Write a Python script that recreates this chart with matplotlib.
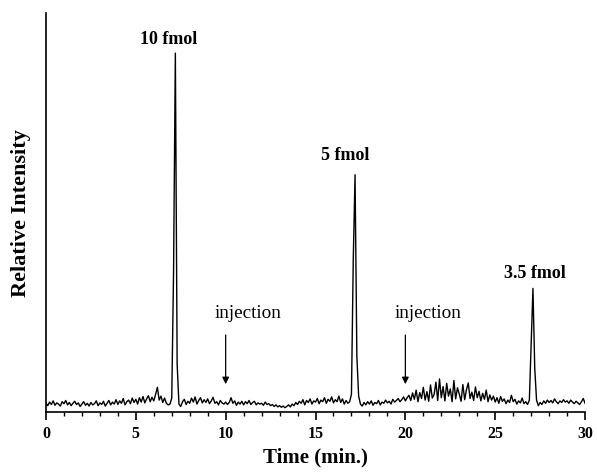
import numpy as np
import matplotlib
matplotlib.use("Agg")
import matplotlib.pyplot as plt

plt.rcParams.update({
    "font.family": ["Liberation Serif", "DejaVu Serif"],
})

# relative intensity sampled every 0.1 min from 0 to 30 min
intensity = [
    2.2, 1.6, 2.5, 1.9, 2.8, 1.7, 2.3, 2.0, 1.5, 2.6,
    2.1, 2.9, 1.8, 2.4, 1.6, 2.2, 2.7, 1.9, 2.3, 1.4,
    2.0, 2.6, 1.7, 2.2, 1.5, 2.4, 1.8, 2.1, 2.8, 1.6,
    2.3, 1.9, 2.7, 1.5, 2.2, 2.9, 1.8, 2.5, 2.0, 3.1,
    1.9, 2.8, 2.2, 3.4, 1.8, 2.6, 3.0, 2.1, 3.5, 2.4,
    3.2, 2.0, 3.6, 2.5, 3.9, 2.3, 3.3, 4.1, 2.6, 3.7,
    2.8, 4.4, 6.2, 3.0, 4.0, 2.4, 3.5, 2.2, 1.8, 2.0,
    3.5, 35.0, 90.0, 12.0, 2.0, 1.4, 2.6, 3.2, 1.9, 2.7,
    2.2, 3.5, 2.5, 3.8, 2.0, 2.9, 3.6, 2.3, 3.1, 2.4,
    3.3, 2.1, 2.8, 3.7, 2.2, 2.6, 1.8, 2.9, 2.3, 2.0,
    2.5, 1.9, 2.4, 3.6, 2.2, 2.8, 1.7, 2.5, 2.0, 2.7,
    1.8, 2.6, 2.1, 2.9, 1.9, 2.4, 2.7, 1.8, 2.3, 2.0,
    2.2, 1.7, 2.5, 1.9, 2.1, 1.6, 1.9, 1.4, 1.8, 1.3,
    1.6, 1.2, 1.5, 1.1, 1.4, 1.8, 1.3, 2.0, 1.6, 2.4,
    1.9, 2.7, 2.2, 3.1, 1.8, 2.9, 2.4, 3.3, 2.0, 2.8,
    2.5, 3.4, 2.1, 3.0, 2.6, 3.6, 2.2, 3.2, 2.7, 3.8,
    2.3, 3.1, 2.6, 4.0, 2.4, 3.3, 2.0, 2.9, 2.2, 2.6,
    4.5, 38.0, 59.5, 14.0, 4.0, 2.0, 1.5, 2.4, 1.8, 2.6,
    2.0, 2.8, 1.7, 2.4, 2.1, 2.9, 1.8, 2.5, 2.2, 3.0,
    2.3, 2.7, 2.0, 3.2, 2.5, 2.9, 3.4, 2.6, 3.1, 3.8,
    2.8, 3.6, 4.2, 2.9, 4.8, 3.2, 5.5, 2.6, 4.9, 3.4,
    6.2, 3.0, 5.1, 2.7, 6.8, 3.5, 4.4, 7.5, 2.9, 8.3,
    3.6, 6.4, 2.8, 7.2, 4.0, 5.8, 2.6, 7.9, 3.3, 6.1,
    4.5, 2.7, 6.9, 3.1, 5.6, 7.3, 3.4, 5.0, 2.9, 6.3,
    3.6, 5.2, 2.8, 4.7, 3.2, 5.5, 2.6, 4.3, 3.0, 4.0,
    2.5, 3.6, 2.2, 3.9, 2.7, 3.3, 2.1, 3.0, 2.4, 4.2,
    2.6, 3.2, 2.0, 2.8, 2.3, 3.5, 2.1, 2.6, 1.9, 3.0,
    17.0, 31.0, 11.0, 3.0, 1.6, 2.4, 1.9, 2.8, 2.2, 3.0,
    2.4, 2.9, 2.3, 3.3, 2.6, 2.1, 2.8, 2.4, 3.1, 2.5,
    2.8, 2.2, 3.0, 2.5, 2.1, 2.7, 2.3, 1.9, 2.6, 3.4,
    2.2,
]
time = np.linspace(0, 30, len(intensity))

peak_labels = ["10 fmol", "5 fmol", "3.5 fmol"]
peak_label_x = [6.82, 16.67, 27.18]
peak_label_y = [93.5, 64.4, 34.8]
injection_times = [10, 20]

fig = plt.figure(figsize=(5.97, 4.72), dpi=100)
ax = fig.add_axes([0.077, 0.127, 0.903, 0.845])

ax.plot(time, intensity, color="black", lw=1.0)

ax.set_xlim(0, 30)
ax.set_ylim(0, 100)
ax.spines["top"].set_visible(False)
ax.spines["right"].set_visible(False)
for s in ["left", "bottom"]:
    ax.spines[s].set_linewidth(1.2)
ax.set_yticks([])
ax.set_xticks(range(0, 31, 5))
ax.set_xticks(range(0, 31), minor=True)
ax.tick_params(axis="x", which="major", direction="out", length=6, width=1.2,
               labelsize=11.5, pad=4)
ax.tick_params(axis="x", which="minor", direction="out", length=3, width=1.0)
for lab in ax.get_xticklabels():
    lab.set_fontweight("bold")

ax.set_xlabel("Time (min.)", fontsize=15, fontweight="bold", labelpad=4)
ax.set_ylabel("Relative Intensity", fontsize=16, fontweight="bold", labelpad=11)

for txt, x, y in zip(peak_labels, peak_label_x, peak_label_y):
    ax.text(x, y, txt, ha="center", va="center", fontsize=13, fontweight="bold")

for t in injection_times:
    ax.text(t + 1.27, 24.8, "injection", ha="center", va="center", fontsize=13.8)
    ax.annotate("", xy=(t, 6.3), xytext=(t, 20.0),
                arrowprops=dict(arrowstyle="-|>", color="black", lw=0.9,
                                mutation_scale=10))

plt.savefig("out.png", dpi=100)
